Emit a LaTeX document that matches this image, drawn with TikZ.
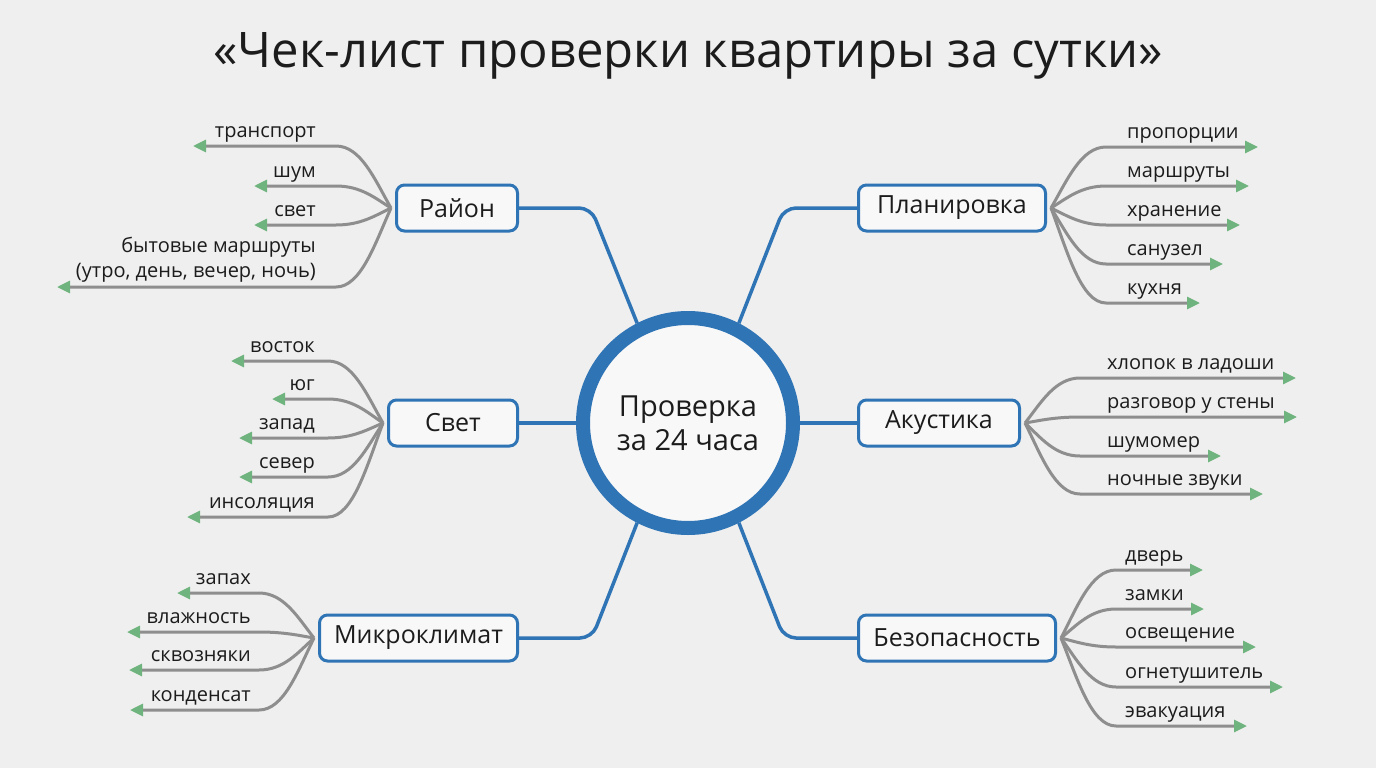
\documentclass[tikz,border=0pt]{standalone}
\usepackage{fontspec}
\setmainfont{Open Sans}
\usetikzlibrary{arrows.meta, calc, positioning}

\definecolor{bgcol}{HTML}{EFEFEF}
\definecolor{hubblue}{HTML}{2F74B5}
\definecolor{leafgray}{HTML}{8E8E8E}
\definecolor{tipgreen}{HTML}{6FB47E}
\definecolor{inkcol}{HTML}{1C1C1C}

\begin{document}
\begin{tikzpicture}[
  x=1pt, y=1pt,
  title/.style={anchor=base, inner sep=0pt, text=inkcol,
                font=\fontsize{49}{56}\selectfont},
  hub/.style={circle, draw=hubblue, line width=14pt, fill=white!55!bgcol,
              minimum size=210pt, align=center, text=inkcol,
              font=\fontsize{29}{34}\selectfont},
  box/.style={draw=hubblue, line width=3pt, rounded corners=8pt,
              fill=white!55!bgcol, minimum height=46pt, inner sep=0pt,
              text=inkcol, font=\fontsize{25}{28}\selectfont},
  link/.style={draw=hubblue, line width=3.5pt, rounded corners=12pt},
  leaftip/.style={-{Triangle[length=13pt, width=12pt, color=tipgreen, fill=tipgreen]}},
  leafL/.style={draw=leafgray, line width=3pt, leaftip,
    to path={let \p1=(\tikztostart), \p2=(\tikztotarget) in
      .. controls ({\x1-16pt},{\y1+0.45*(\y2-\y1)}) and ({\x1-30pt},\y2)
      .. ({\x1-55pt},\y2) -- (\tikztotarget)}},
  leafR/.style={draw=leafgray, line width=3pt, leaftip,
    to path={let \p1=(\tikztostart), \p2=(\tikztotarget) in
      .. controls ({\x1+16pt},{\y1+0.45*(\y2-\y1)}) and ({\x1+30pt},\y2)
      .. ({\x1+55pt},\y2) -- (\tikztotarget)}},
  lblL/.style={anchor=base east, inner sep=0pt, text=inkcol,
               font=\fontsize{20}{25}\selectfont},
  lblR/.style={anchor=base west, inner sep=0pt, text=inkcol,
               font=\fontsize{20}{25}\selectfont}
]

% canvas 1376 x 768, y runs downwards as negative
\fill[bgcol] (0,0) rectangle (1376,-768);
\useasboundingbox (0,0) rectangle (1376,-768);

\node[title] (ttl) at (688,-67) {«Чек-лист проверки квартиры за сутки»};

% --- centre ---
\node[hub] (hub) at (688,-423) {Проверка\\за 24 часа};

% --- topics ---
\node[box, minimum width=121pt] (rayon) at (457,-208)   {Район};
\node[box, minimum width=129pt] (svet)  at (453,-423)   {Свет};
\node[box, minimum width=198pt] (mikro) at (418.5,-638) {Микроклимат};
\node[box, minimum width=187pt] (plan)  at (952,-208)   {Планировка};
\node[box, minimum width=161pt] (akust) at (939,-423)   {Акустика};
\node[box, minimum width=197pt] (bezop) at (957,-638)   {Безопасность};

% ---- hub links ----
\draw[link] (rayon.east) -- (591,-208) -- (hub.117);
\draw[link] (svet.east)  -- (hub.west);
\draw[link] (mikro.east) -- (592,-638) -- (hub.243);
\draw[link] (plan.west)  -- (784,-208) -- (hub.63);
\draw[link] (akust.west) -- (hub.east);
\draw[link] (bezop.west) -- (784,-638) -- (hub.297);

% fan roots
\coordinate (rayon-w) at ([xshift=-4pt]rayon.west);
\coordinate (svet-w)  at ([xshift=-4pt]svet.west);
\coordinate (mikro-w) at ([xshift=-4pt]mikro.west);
\coordinate (plan-e)  at ([xshift=4pt]plan.east);
\coordinate (akust-e) at ([xshift=4pt]akust.east);
\coordinate (bezop-e) at ([xshift=4pt]bezop.east);

% --- Район ---
\coordinate (r1) at (193,-146);
\coordinate (r2) at (254,-186);
\coordinate (r3) at (254,-225);
\coordinate (r4) at (57,-287);
\draw[leafL] (rayon-w) to (r1);
\draw[leafL] (rayon-w) to (r2);
\draw[leafL] (rayon-w) to (r3);
\draw[leafL] (rayon-w) to (r4);
\node[lblL] (r1l) at (316,-137) {транспорт};
\node[lblL] (r2l) at (316,-177) {шум};
\node[lblL] (r3l) at (316,-216) {свет};
\node[lblL, anchor=south east, align=right] (r4l) at (316,-283)
      {бытовые маршруты\\(утро, день, вечер, ночь)};

% --- Свет ---
\coordinate (s1) at (231,-361);
\coordinate (s2) at (272,-399);
\coordinate (s3) at (239,-438);
\coordinate (s4) at (239,-477);
\coordinate (s5) at (187,-517);
\draw[leafL] (svet-w) to (s1);
\draw[leafL] (svet-w) to (s2);
\draw[leafL] (svet-w) to (s3);
\draw[leafL] (svet-w) to (s4);
\draw[leafL] (svet-w) to (s5);
\node[lblL] (s1l) at (315,-352) {восток};
\node[lblL] (s2l) at (315,-390) {юг};
\node[lblL] (s3l) at (315,-429) {запад};
\node[lblL] (s4l) at (315,-468) {север};
\node[lblL] (s5l) at (315,-508) {инсоляция};

% --- Микроклимат ---
\coordinate (m1) at (177,-593);
\coordinate (m2) at (127,-632);
\coordinate (m3) at (129,-670);
\coordinate (m4) at (130,-710);
\draw[leafL] (mikro-w) to (m1);
\draw[leafL] (mikro-w) to (m2);
\draw[leafL] (mikro-w) to (m3);
\draw[leafL] (mikro-w) to (m4);
\node[lblL] (m1l) at (251,-584) {запах};
\node[lblL] (m2l) at (251,-623) {влажность};
\node[lblL] (m3l) at (251,-661) {сквозняки};
\node[lblL] (m4l) at (251,-701) {конденсат};

% --- Планировка ---
\coordinate (p1) at (1258,-147);
\coordinate (p2) at (1249,-186);
\coordinate (p3) at (1240,-225);
\coordinate (p4) at (1223,-264);
\coordinate (p5) at (1200,-303);
\draw[leafR] (plan-e) to (p1);
\draw[leafR] (plan-e) to (p2);
\draw[leafR] (plan-e) to (p3);
\draw[leafR] (plan-e) to (p4);
\draw[leafR] (plan-e) to (p5);
\node[lblR] (p1l) at (1127,-138) {пропорции};
\node[lblR] (p2l) at (1127,-177) {маршруты};
\node[lblR] (p3l) at (1127,-216) {хранение};
\node[lblR] (p4l) at (1127,-255) {санузел};
\node[lblR] (p5l) at (1127,-294) {кухня};

% --- Акустика ---
\coordinate (a1) at (1296,-378);
\coordinate (a2) at (1297,-417);
\coordinate (a3) at (1221,-456);
\coordinate (a4) at (1263,-494);
\draw[leafR] (akust-e) to (a1);
\draw[leafR] (akust-e) to (a2);
\draw[leafR] (akust-e) to (a3);
\draw[leafR] (akust-e) to (a4);
\node[lblR] (a1l) at (1107,-369) {хлопок в ладоши};
\node[lblR] (a2l) at (1107,-408) {разговор у стены};
\node[lblR] (a3l) at (1107,-447) {шумомер};
\node[lblR] (a4l) at (1107,-485) {ночные звуки};

% --- Безопасность ---
\coordinate (b1) at (1203,-570);
\coordinate (b2) at (1204,-609);
\coordinate (b3) at (1256,-647);
\coordinate (b4) at (1283,-687);
\coordinate (b5) at (1247,-726);
\draw[leafR] (bezop-e) to (b1);
\draw[leafR] (bezop-e) to (b2);
\draw[leafR] (bezop-e) to (b3);
\draw[leafR] (bezop-e) to (b4);
\draw[leafR] (bezop-e) to (b5);
\node[lblR] (b1l) at (1125,-561) {дверь};
\node[lblR] (b2l) at (1125,-600) {замки};
\node[lblR] (b3l) at (1125,-638) {освещение};
\node[lblR] (b4l) at (1125,-678) {огнетушитель};
\node[lblR] (b5l) at (1125,-717) {эвакуация};

\end{tikzpicture}
\end{document}
